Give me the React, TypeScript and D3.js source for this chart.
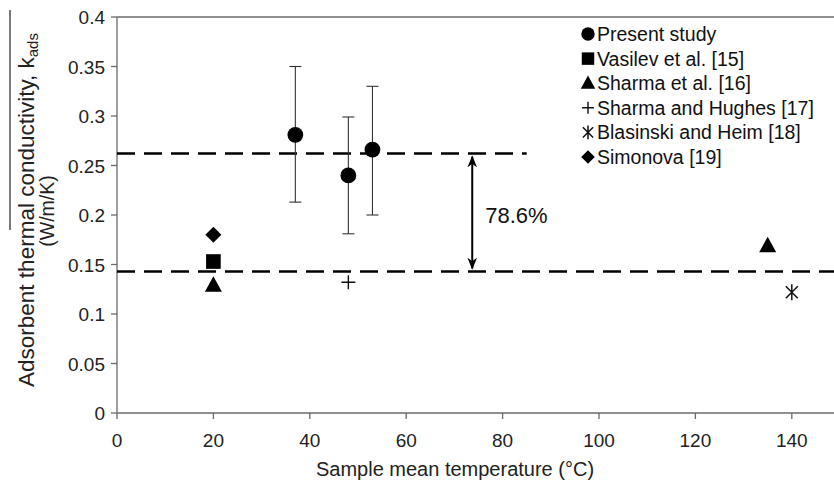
import React from "react";
import * as d3 from "d3";

// data
const presentT = [37, 48, 53];
const presentK = [0.281, 0.24, 0.266];
const presentLo = [0.213, 0.181, 0.2];
const presentHi = [0.35, 0.299, 0.33];

const vasilevT = [20];
const vasilevK = [0.153];
const sharmaT = [20, 135];
const sharmaK = [0.129, 0.169];
const hughesT = [48];
const hughesK = [0.132];
const blasinskiT = [140];
const blasinskiK = [0.122];
const simonovaT = [20];
const simonovaK = [0.18];

const upperAvg = 0.262;
const lowerAvg = 0.143;
const upperEnd = 85;
const arrowT = 73.7;

const legendNames = [
  "Present study",
  "Vasilev et al. [15]",
  "Sharma et al. [16]",
  "Sharma and Hughes [17]",
  "Blasinski and Heim [18]",
  "Simonova [19]",
];
const xTicks = [0, 20, 40, 60, 80, 100, 120, 140];
const yTicks = [0, 0.05, 0.1, 0.15, 0.2, 0.25, 0.3, 0.35, 0.4];

const width = 834;
const height = 481;
const font = "Liberation Sans, Arial, sans-serif";
const axisColor = "#6b6b6b";

const x = d3.scaleLinear().domain([0, 150]).range([117, 840]);
const y = d3.scaleLinear().domain([0, 0.4]).range([413, 17]);

// marker shapes (centred on 0,0)
const sym: Record<string, string> = {
  circle: d3.symbol().type(d3.symbolCircle).size(195)()!,
  square: d3.symbol().type(d3.symbolSquare).size(215)()!,
  triangle: "M0,-9L8.5,6.5L-8.5,6.5Z",
  diamond: "M0,-8L8,0L0,8L-8,0Z",
};

const Marker = ({ kind, cx, cy, scale = 1 }: { kind: string; cx: number; cy: number; scale?: number }) => {
  if (kind === "plus") {
    const s = 7 * scale;
    return (
      <path d={`M${cx - s},${cy}H${cx + s}M${cx},${cy - s}V${cy + s}`} stroke="#111" strokeWidth={1.4} fill="none" />
    );
  }
  if (kind === "star") {
    const s = 8 * scale;
    const d = s * 0.75;
    return (
      <path
        d={`M${cx},${cy - s}V${cy + s}M${cx - d},${cy - d}L${cx + d},${cy + d}M${cx - d},${cy + d}L${cx + d},${cy - d}`}
        stroke="#111"
        strokeWidth={1.5}
        fill="none"
      />
    );
  }
  return <path d={sym[kind]} transform={`translate(${cx},${cy}) scale(${scale})`} fill="#000" />;
};

const App = () => {
  const legendKinds = ["circle", "square", "triangle", "plus", "star", "diamond"];
  const legendX = 588;
  const legendTop = 41;
  const legendStep = 24.6;

  const points: { kind: string; t: number[]; k: number[] }[] = [
    { kind: "square", t: vasilevT, k: vasilevK },
    { kind: "triangle", t: sharmaT, k: sharmaK },
    { kind: "plus", t: hughesT, k: hughesK },
    { kind: "star", t: blasinskiT, k: blasinskiK },
    { kind: "diamond", t: simonovaT, k: simonovaK },
  ];

  return (
    <svg
      width={width}
      height={height}
      style={{ position: "absolute", left: 0, top: 0, background: "#fff" }}
      fontFamily={font}
    >
      {/* plot frame top */}
      <line x1={x(0)} x2={width} y1={y(0.4)} y2={y(0.4)} stroke={axisColor} strokeWidth={1.3} />
      {/* y axis */}
      <line x1={x(0)} x2={x(0)} y1={y(0)} y2={y(0.4)} stroke={axisColor} strokeWidth={1.3} />
      {yTicks.map((t) => (
        <g key={t}>
          <line x1={x(0) - 6} x2={x(0)} y1={y(t)} y2={y(t)} stroke={axisColor} strokeWidth={1.3} />
          <text x={x(0) - 12} y={y(t) + 7} textAnchor="end" fontSize={19} fill="#222">
            {t}
          </text>
        </g>
      ))}
      {/* x axis */}
      <line x1={x(0)} x2={width} y1={y(0)} y2={y(0)} stroke={axisColor} strokeWidth={1.3} />
      {xTicks.map((t) => (
        <g key={t}>
          <line x1={x(t)} x2={x(t)} y1={y(0)} y2={y(0) + 6} stroke={axisColor} strokeWidth={1.3} />
          <text x={x(t)} y={y(0) + 34} textAnchor="middle" fontSize={19} fill="#222">
            {t}
          </text>
        </g>
      ))}

      {/* axis titles */}
      <text x={455} y={476} textAnchor="middle" fontSize={20} fill="#222">
        Sample mean temperature (°C)
      </text>
      <g transform="translate(34,210) rotate(-90)">
        <text textAnchor="middle" fontSize={22.5} fill="#222">
          Adsorbent thermal conductivity, k
          <tspan fontSize={15} dy={4}>ads</tspan>
        </text>
      </g>
      <g transform="translate(54,211) rotate(-90)">
        <text textAnchor="middle" fontSize={19.5} fill="#222">
          (W/m/K)
        </text>
      </g>
      <line x1={10} x2={10} y1={10} y2={230} stroke="#222" strokeWidth={1.2} />

      {/* average lines */}
      <line
        x1={x(0)}
        x2={x(upperEnd)}
        y1={y(upperAvg)}
        y2={y(upperAvg)}
        stroke="#000"
        strokeWidth={2.5}
        strokeDasharray="18 9"
      />
      <line
        x1={x(0)}
        x2={width}
        y1={y(lowerAvg)}
        y2={y(lowerAvg)}
        stroke="#000"
        strokeWidth={2.5}
        strokeDasharray="18 9"
      />

      {/* arrow */}
      <defs>
        <marker id="ah" viewBox="0 0 10 10" refX={9} refY={5} markerWidth={6} markerHeight={7} orient="auto-start-reverse">
          <path d="M0,1 L10,5 L0,9 L3,5 Z" fill="#000" />
        </marker>
      </defs>
      <line
        x1={x(arrowT)}
        x2={x(arrowT)}
        y1={y(upperAvg) + 3}
        y2={y(lowerAvg) - 3}
        stroke="#000"
        strokeWidth={2}
        markerStart="url(#ah)"
        markerEnd="url(#ah)"
      />
      <text x={x(arrowT) + 13} y={223} fontSize={22} fill="#111">
        78.6%
      </text>

      {/* error bars */}
      {presentT.map((t, i) => (
        <g key={"e" + i} stroke="#333" strokeWidth={1.1}>
          <line x1={x(t)} x2={x(t)} y1={y(presentLo[i])} y2={y(presentHi[i])} />
          <line x1={x(t) - 6} x2={x(t) + 6} y1={y(presentLo[i])} y2={y(presentLo[i])} />
          <line x1={x(t) - 6} x2={x(t) + 6} y1={y(presentHi[i])} y2={y(presentHi[i])} />
        </g>
      ))}
      {presentT.map((t, i) => (
        <Marker key={"p" + i} kind="circle" cx={x(t)} cy={y(presentK[i])} />
      ))}
      {points.map((s) =>
        s.t.map((t, i) => <Marker key={s.kind + i} kind={s.kind} cx={x(t)} cy={y(s.k[i])} />)
      )}

      {/* legend */}
      {legendNames.map((n, i) => (
        <g key={n}>
          <Marker kind={legendKinds[i]} cx={legendX} cy={legendTop + i * legendStep - 7} scale={0.85} />
          <text x={legendX + 9} y={legendTop + i * legendStep} fontSize={19.5} fill="#111">
            {n}
          </text>
        </g>
      ))}
    </svg>
  );
};

export default App;
